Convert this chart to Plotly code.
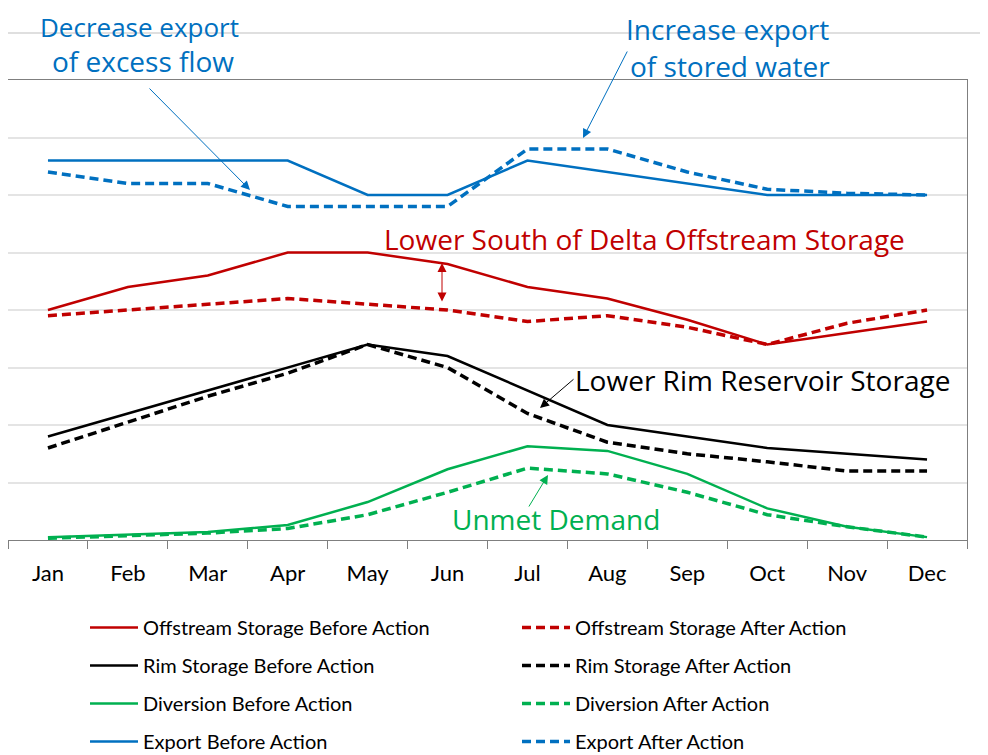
import plotly.graph_objects as go

months = ["Jan", "Feb", "Mar", "Apr", "May", "Jun", "Jul", "Aug", "Sep", "Oct", "Nov", "Dec"]

offstream_before = [4.0, 4.4, 4.6, 5.0, 5.0, 4.8, 4.4, 4.2, 3.83, 3.4, 3.6, 3.8]
offstream_after = [3.9, 4.0, 4.1, 4.2, 4.1, 4.0, 3.8, 3.9, 3.7, 3.4, 3.77, 4.0]
rim_before = [1.8, 2.2, 2.6, 3.0, 3.4, 3.2, 2.6, 2.0, 1.8, 1.6, 1.5, 1.4]
rim_after = [1.6, 2.05, 2.5, 2.9, 3.4, 3.0, 2.2, 1.7, 1.5, 1.36, 1.2, 1.2]
diversion_before = [0.05, 0.09, 0.14, 0.26, 0.66, 1.23, 1.63, 1.55, 1.15, 0.55, 0.23, 0.05]
diversion_after = [0.03, 0.08, 0.12, 0.2, 0.44, 0.83, 1.25, 1.15, 0.83, 0.44, 0.23, 0.05]
export_before = [6.6, 6.6, 6.6, 6.6, 6.0, 6.0, 6.6, 6.4, 6.2, 6.0, 6.0, 6.0]
export_after = [6.4, 6.2, 6.2, 5.8, 5.8, 5.8, 6.8, 6.8, 6.4, 6.1, 6.03, 6.0]

RED = "#C00000"
BLACK = "#000000"
GREEN = "#00B050"
BLUE = "#0070C0"
FONT = "Lato"
AFONT = "Open Sans"

series = [
    ("Offstream Storage Before Action", offstream_before, RED, "solid", "legend"),
    ("Rim Storage Before Action", rim_before, BLACK, "solid", "legend"),
    ("Diversion Before Action", diversion_before, GREEN, "solid", "legend"),
    ("Export Before Action", export_before, BLUE, "solid", "legend"),
    ("Offstream Storage After Action", offstream_after, RED, "dash", "legend2"),
    ("Rim Storage After Action", rim_after, BLACK, "dash", "legend2"),
    ("Diversion After Action", diversion_after, GREEN, "dash", "legend2"),
    ("Export After Action", export_after, BLUE, "dash", "legend2"),
]

fig = go.Figure()
for i, (name, vals, col, dash, leg) in enumerate(series):
    fig.add_trace(go.Scatter(
        x=months, y=vals, mode="lines", name=name,
        line=dict(color=col, width=2.5 if dash == "solid" else 3.5,
                  dash="solid" if dash == "solid" else "9px,5px"),
        legend=leg, legendgroup=name,
    ))

# page body has an 8px margin, so the figure is drawn 8px smaller and offset
OFF = 8
W, H = 988 - OFF, 755 - OFF
PL, PT, PR, PB = 8, 80, 967, 540   # plot area in reference pixels
L, T = PL - OFF, PT - OFF
pw, ph = PR - PL, PB - PT
R, B = W - L - pw, H - T - ph


def px(x):
    return (x - PL) / pw


def py(y):
    return (PB - y) / ph


annotations = []


def text(t, x, y, color, size=28):
    annotations.append(dict(text=t, x=px(x), y=py(y), xref="paper", yref="paper",
                            showarrow=False, xanchor="center", yanchor="middle",
                            font=dict(family=AFONT, size=size, color=color)))


def arrow(hx, hy, tx, ty, color, side="end"):
    annotations.append(dict(text="", x=px(hx), y=py(hy), xref="paper", yref="paper",
                            ax=tx - hx, ay=ty - hy, axref="pixel", ayref="pixel",
                            showarrow=True, arrowhead=2, arrowsize=1.8, arrowwidth=1,
                            startarrowhead=2, startarrowsize=1.8,
                            arrowside=side, arrowcolor=color))


text("Decrease export", 139, 27, BLUE, size=26)
text("of excess flow", 143, 61, BLUE)
text("Increase export", 727, 29, BLUE)
text("of stored water", 730, 66, BLUE)
text("Lower South of Delta Offstream Storage", 644, 239, RED)
text("Lower Rim Reservoir Storage", 762, 380, BLACK)
text("Unmet Demand", 556, 519, GREEN)

arrow(250, 190, 148, 87, BLUE)
arrow(583, 138, 628, 50, BLUE)
arrow(540, 408, 575, 378, BLACK)
arrow(548, 475, 528, 508, GREEN)
arrow(442, 263, 442, 303, RED, side="end+start")

fig.update_layout(
    width=W, height=H,
    margin=dict(l=L, r=R, t=T, b=B, autoexpand=False),
    paper_bgcolor="white", plot_bgcolor="white",
    font=dict(family=FONT, color="black"),
    annotations=annotations,
    shapes=[dict(type="line", xref="paper", yref="paper", x0=px(0), x1=px(988),
                 y0=py(33), y1=py(33), line=dict(color="#BFBFBF", width=1))],
    xaxis=dict(range=[-0.5, 11.5], showgrid=False, showline=True, linecolor="#7F7F7F",
               linewidth=1, mirror=True, ticks="outside", tickson="boundaries", ticklen=8,
               tickcolor="#7F7F7F", tickfont=dict(size=22, family=FONT, color="black"),
               ticklabelstandoff=14, automargin=False, fixedrange=True),
    yaxis=dict(range=[0, 8], dtick=1, showgrid=True, gridcolor="#E4E4E4", gridwidth=1.5,
               showticklabels=False, showline=True, linecolor="#7F7F7F", linewidth=1,
               mirror=True, zeroline=False, automargin=False, fixedrange=True),
    legend=dict(x=px(85), y=py(608), xanchor="left", yanchor="top",
                orientation="v", traceorder="grouped", tracegroupgap=9, itemwidth=48,
                font=dict(family=FONT, size=20, color="black"), bgcolor="rgba(0,0,0,0)"),
    legend2=dict(x=px(517), y=py(608), xanchor="left", yanchor="top",
                 orientation="v", traceorder="grouped", tracegroupgap=9, itemwidth=48,
                 font=dict(family=FONT, size=20, color="black"), bgcolor="rgba(0,0,0,0)"),
)

fig.write_html("out.html")
